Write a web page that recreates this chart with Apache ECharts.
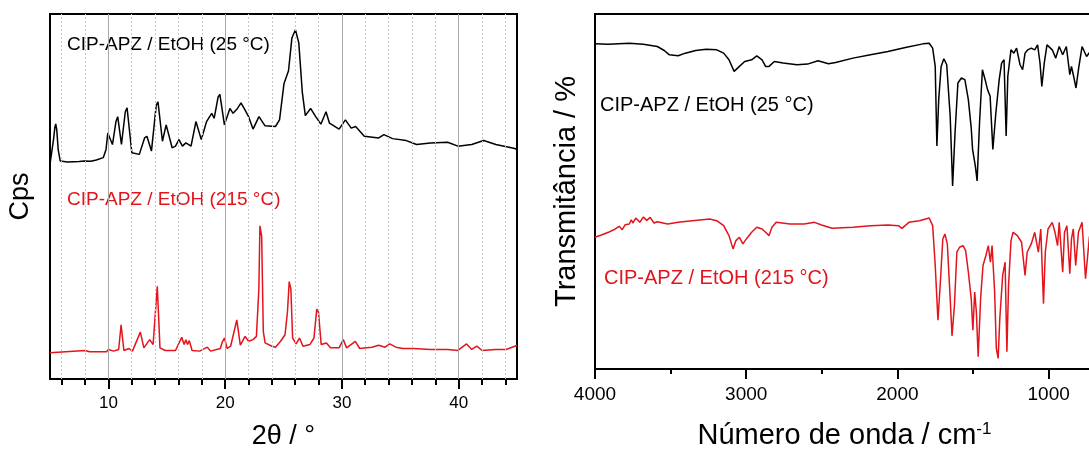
<!DOCTYPE html>
<html>
<head>
<meta charset="utf-8">
<script src="https://cdn.jsdelivr.net/npm/echarts@6/dist/echarts.min.js"></script>
<style>
html,body{margin:0;padding:0;overflow:hidden;background:#fff;width:1089px;height:455px;}
#c{width:1100px;height:455px;}
</style>
</head>
<body>
<div id="c"></div>
<script>
// ---- XRD (left panel): [2theta, intensity (a.u.)] ----
const xrd25 = [[5.02,660],[5.3,730],[5.42,768],[5.49,778],[5.58,760],[5.7,700],[5.87,665],[6.5,662],[7.5,663],[7.94,665],[8.08,670],[8.5,664],[8.97,668],[9.56,675],[9.8,700],[9.95,750],[10.05,755],[10.35,715],[10.65,785],[10.8,800],[11.12,715],[11.45,815],[11.6,827],[12.01,690],[12.65,685],[13.1,735],[13.3,740],[13.69,695],[14.1,835],[14.25,845],[14.63,725],[14.95,775],[15.05,780],[15.46,705],[15.75,710],[16.05,730],[16.34,710],[16.64,720],[17.08,710],[17.5,785],[17.65,790],[17.96,730],[18.41,785],[18.85,810],[19.06,795],[19.4,860],[19.55,868],[19.94,775],[20.41,825],[20.68,810],[21.06,825],[21.36,842],[21.71,820],[22.01,800],[22.39,762],[22.9,800],[23.05,805],[23.42,772],[24.31,770],[24.66,790],[25.04,900],[25.43,940],[25.72,1040],[26.02,1065],[26.31,1025],[26.61,875],[26.87,803],[27.32,825],[27.76,800],[28.2,777],[28.64,815],[28.94,780],[29.76,762],[30.3,790],[30.8,765],[31.18,770],[31.92,740],[33.16,735],[33.6,745],[34.34,733],[35.52,727],[36.4,715],[37.58,720],[39.06,722],[39.94,710],[41.12,715],[42.15,727],[43.19,715],[44.81,703],[45,700]];
const xrd215 = [[5.0,80],[8.02,87],[8.38,83],[9.85,83],[10.0,90],[10.44,85],[10.88,90],[11.09,165],[11.33,87],[11.77,93],[12.06,85],[12.74,143],[13.04,95],[13.54,120],[13.83,105],[14.19,283],[14.42,95],[14.87,87],[15.75,87],[16.28,127],[16.49,105],[16.64,120],[16.78,105],[16.93,117],[17.17,87],[17.82,85],[18.47,97],[18.76,85],[19.59,93],[19.73,110],[19.94,125],[20.18,93],[20.47,100],[21.0,180],[21.3,103],[21.71,130],[22.01,115],[22.39,120],[22.68,130],[22.89,275],[22.98,467],[23.13,435],[23.27,145],[23.42,110],[24.01,100],[24.31,97],[24.75,115],[25.13,135],[25.34,205],[25.49,297],[25.63,275],[25.78,125],[26.08,107],[26.37,125],[26.67,100],[27.26,105],[27.61,125],[27.85,213],[27.99,205],[28.23,105],[28.67,110],[29.03,95],[29.76,95],[30.12,120],[30.41,95],[31.15,115],[31.53,93],[32.57,97],[33.16,103],[33.69,97],[34.1,107],[34.63,97],[35.22,93],[36.11,93],[37.58,90],[39.06,90],[39.94,87],[40.68,107],[41.12,90],[41.56,100],[42.01,87],[43.19,90],[44.07,90],[44.81,100],[45,103]];
const xrdLabels = [10,20,30,40];
const xrdMinorTicks = [6,8,12,14,16,18,22,24,26,28,32,34,36,38,42,44];

// ---- FTIR (right panel): [wavenumber, transmittance (a.u.)] ----
const ir25 = [[4000,980],[3912,979],[3773,982],[3681,979],[3588,972],[3542,960],[3508,947],[3450,944],[3403,952],[3334,960],[3265,964],[3195,962],[3149,952],[3114,932],[3080,897],[3045,912],[3010,927],[2964,932],[2930,944],[2895,932],[2872,912],[2849,912],[2814,927],[2756,922],[2664,917],[2594,919],[2525,929],[2456,920],[2409,924],[2294,937],[2178,947],[2063,957],[1947,969],[1831,980],[1790,982],[1767,967],[1750,912],[1739,672],[1727,812],[1711,912],[1693,935],[1674,917],[1651,762],[1635,552],[1619,712],[1600,862],[1577,877],[1554,872],[1531,812],[1512,727],[1503,662],[1485,612],[1473,567],[1457,742],[1438,902],[1420,872],[1404,842],[1387,822],[1369,662],[1350,767],[1327,872],[1311,922],[1295,932],[1281,702],[1270,882],[1249,962],[1230,952],[1212,967],[1189,917],[1172,902],[1156,952],[1138,962],[1115,967],[1092,962],[1073,977],[1057,922],[1045,852],[1029,922],[1011,977],[976,962],[953,937],[930,972],[907,947],[883,972],[860,887],[849,912],[837,887],[819,847],[803,902],[779,972],[749,942],[720,960]];
const ir215 = [[4000,397],[3958,404],[3912,412],[3866,422],[3840,430],[3820,420],[3800,435],[3773,437],[3760,450],[3750,440],[3730,455],[3704,442],[3680,458],[3658,448],[3635,457],[3610,440],[3588,444],[3519,437],[3450,442],[3357,447],[3242,452],[3195,447],[3149,432],[3114,402],[3087,362],[3068,387],[3045,397],[3022,377],[2999,392],[2964,412],[2930,427],[2895,422],[2872,412],[2849,402],[2830,427],[2802,442],[2710,437],[2617,437],[2548,442],[2502,434],[2432,424],[2294,427],[2178,432],[2063,434],[1993,432],[1970,424],[1924,442],[1855,447],[1790,455],[1767,432],[1750,312],[1732,147],[1716,262],[1700,392],[1686,407],[1670,377],[1651,212],[1639,100],[1623,192],[1607,352],[1589,367],[1566,372],[1549,357],[1531,292],[1512,212],[1501,117],[1489,232],[1478,172],[1466,37],[1450,212],[1434,312],[1415,342],[1399,372],[1385,322],[1374,372],[1357,232],[1346,62],[1334,32],[1323,152],[1304,282],[1288,322],[1276,52],[1265,252],[1249,387],[1235,412],[1207,402],[1179,382],[1156,282],[1142,352],[1115,377],[1092,412],[1068,352],[1052,422],[1034,197],[1022,352],[1004,422],[976,442],[958,412],[941,372],[930,442],[907,292],[895,412],[879,432],[860,287],[849,392],[837,422],[821,312],[803,412],[779,442],[756,272],[730,400]];
const irLabels = [4000,3000,2000,1000];
const irMinorTicks = [3500,2500,1500];

const name25 = 'CIP-APZ / EtOH (25 °C)';
const name215 = 'CIP-APZ / EtOH (215 °C)';

const FONT = "'Liberation Sans', Arial, sans-serif";
const RED = '#e3141c';
const chart = echarts.init(document.getElementById('c'), null, {renderer:'canvas'});

const gridLines = [];
xrdLabels.forEach(v => gridLines.push({xAxis: v, lineStyle: {color:'#a8a8a8', width:1, type:'solid'}}));
xrdMinorTicks.forEach(v => gridLines.push({xAxis: v, lineStyle: {color:'#c8c8c8', width:1, type:[2,2]}}));

const plain = v => String(v);

chart.setOption({
  animation: false,
  textStyle: {fontFamily: FONT},
  grid: [
    {left: 50, top: 14, width: 467, height: 369, show: true, borderColor: '#000', borderWidth: 2, backgroundColor: 'transparent'},
    {left: 595, top: 14, width: 499, height: 358, show: true, borderColor: '#000', borderWidth: 2, backgroundColor: 'transparent'}
  ],
  xAxis: [
    {type:'value', gridIndex:0, min:5, max:45, position:'bottom',
     axisLine:{show:true, lineStyle:{color:'#000', width:2}},
     axisTick:{show:true, inside:false, customValues: xrdMinorTicks, length:6, lineStyle:{color:'#000', width:2}},
     axisLabel:{show:true, customValues: xrdLabels, formatter: plain, fontSize:17, color:'#000', margin:16, fontFamily: FONT},
     splitLine:{show:false},
     name:'2θ / °', nameLocation:'middle', nameGap:44, nameTextStyle:{fontSize:27, color:'#000', fontFamily: FONT}},
    {type:'value', gridIndex:0, min:5, max:45, position:'bottom',
     axisLine:{show:false},
     axisTick:{show:true, inside:false, customValues: xrdLabels, length:10, lineStyle:{color:'#000', width:2}},
     axisLabel:{show:false}, splitLine:{show:false}},
    {type:'value', gridIndex:1, min:700, max:4000, inverse:true, position:'bottom',
     axisLine:{show:true, lineStyle:{color:'#000', width:2}},
     axisTick:{show:true, inside:false, customValues: irLabels, length:10, lineStyle:{color:'#000', width:2}},
     axisLabel:{show:true, customValues: irLabels, formatter: plain, fontSize:19, color:'#000', margin:16, fontFamily: FONT},
     splitLine:{show:false},
     name:'Número de onda / cm{sup|-1}', nameLocation:'middle', nameGap:52,
     nameTextStyle:{fontSize:29, color:'#000', fontFamily: FONT,
       rich:{sup:{fontSize:17, color:'#000', verticalAlign:'top', fontFamily: FONT, padding:[0,0,12,0]}}}},
    {type:'value', gridIndex:1, min:700, max:4000, inverse:true, position:'bottom',
     axisLine:{show:false},
     axisTick:{show:true, inside:false, customValues: irMinorTicks, length:5, lineStyle:{color:'#000', width:2}},
     axisLabel:{show:false}, splitLine:{show:false}}
  ],
  yAxis: [
    {type:'value', gridIndex:0, min:0, max:1113,
     axisLine:{show:true, lineStyle:{color:'#000', width:2}}, axisTick:{show:false}, axisLabel:{show:false}, splitLine:{show:false},
     name:'Cps', nameLocation:'middle', nameGap:16, nameTextStyle:{fontSize:27, color:'#000', fontFamily: FONT}},
    {type:'value', gridIndex:1, min:0, max:1070,
     axisLine:{show:true, lineStyle:{color:'#000', width:2}}, axisTick:{show:false}, axisLabel:{show:false}, splitLine:{show:false},
     name:'Transmitância / %', nameLocation:'middle', nameGap:14, nameTextStyle:{fontSize:29, color:'#000', fontFamily: FONT}}
  ],
  series: [
    {type:'line', xAxisIndex:0, yAxisIndex:0, data:[], z:1, silent:true,
     markLine:{silent:true, symbol:['none','none'], label:{show:false}, animation:false, data: gridLines}},
    {type:'line', name:name25, xAxisIndex:0, yAxisIndex:0, data:xrd25, showSymbol:false, z:3,
     lineStyle:{color:'#000', width:1.5}, itemStyle:{color:'#000'}},
    {type:'line', name:name215, xAxisIndex:0, yAxisIndex:0, data:xrd215, showSymbol:false, z:3,
     lineStyle:{color:RED, width:1.5}, itemStyle:{color:RED}},
    {type:'line', name:name25, xAxisIndex:2, yAxisIndex:1, data:ir25, showSymbol:false, z:3,
     lineStyle:{color:'#000', width:1.5}, itemStyle:{color:'#000'}},
    {type:'line', name:name215, xAxisIndex:2, yAxisIndex:1, data:ir215, showSymbol:false, z:3,
     lineStyle:{color:RED, width:1.5}, itemStyle:{color:RED}}
  ],
  graphic: [
    {type:'text', x:67, y:45, style:{text:name25, fill:'#000', fontSize:19, fontFamily:FONT, verticalAlign:'middle'}},
    {type:'text', x:67, y:200, style:{text:name215, fill:RED, fontSize:19, fontFamily:FONT, verticalAlign:'middle'}},
    {type:'text', x:600, y:105, style:{text:name25, fill:'#000', fontSize:20, fontFamily:FONT, verticalAlign:'middle'}},
    {type:'text', x:604, y:278, style:{text:name215, fill:RED, fontSize:20, fontFamily:FONT, verticalAlign:'middle'}}
  ]
});
</script>
</body>
</html>
